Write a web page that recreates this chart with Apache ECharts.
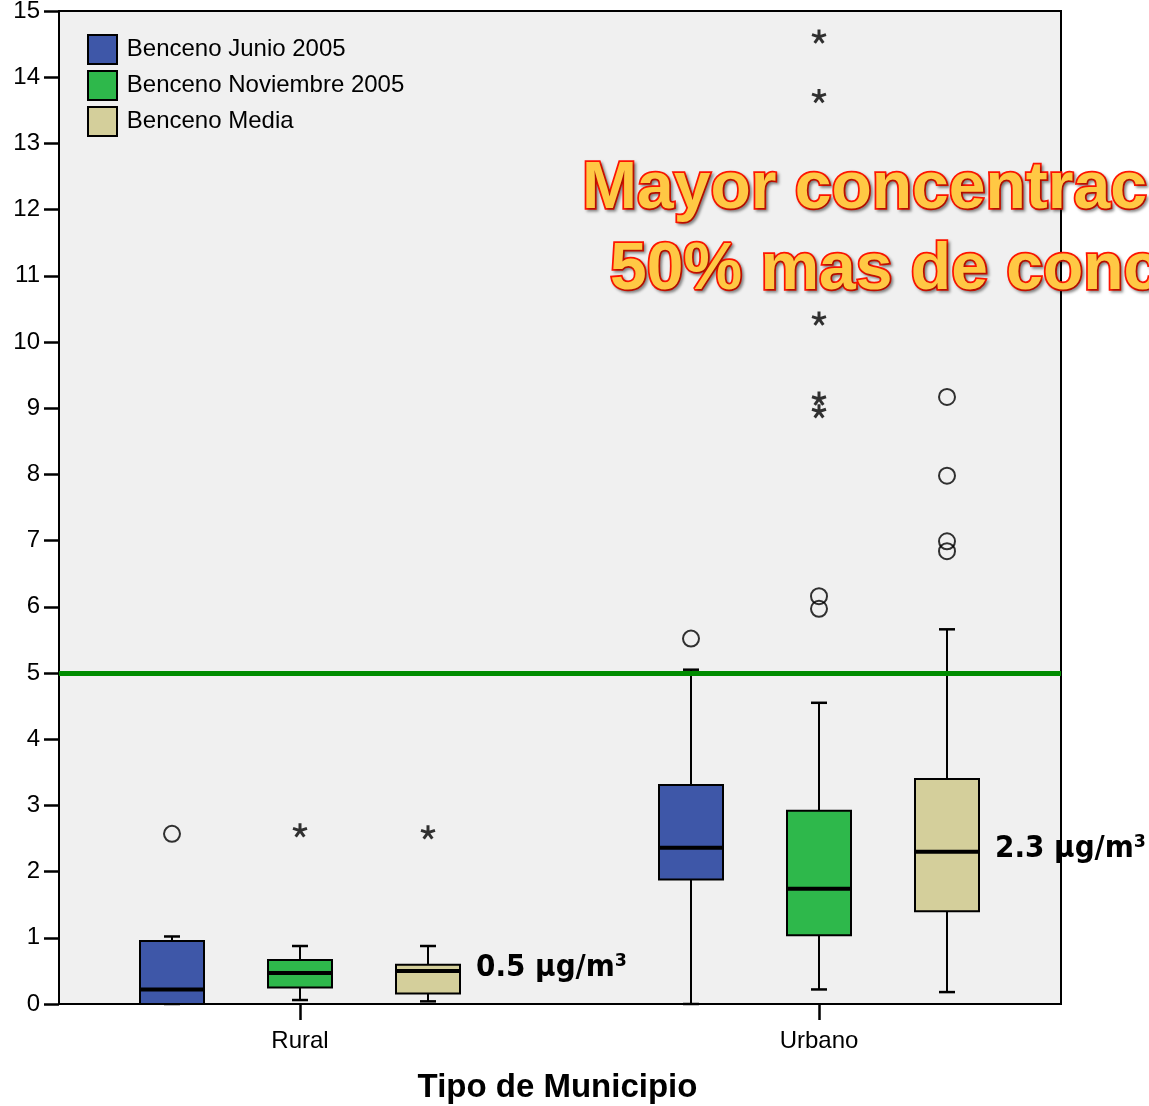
<!DOCTYPE html>
<html>
<head>
<meta charset="utf-8">
<script src="https://cdn.jsdelivr.net/npm/echarts@6/dist/echarts.min.js"></script>
<style>
  html, body { margin: 0; padding: 0; background: #fff; }
  #chart { width: 1149px; height: 1106px; }
</style>
</head>
<body>
<div id="chart"></div>
<script>
// Municipality types on the x axis
const categories = ['Rural', 'Urbano'];
const seriesNames = ['Benceno Junio 2005', 'Benceno Noviembre 2005', 'Benceno Media'];

// Box statistics per category: [min whisker, Q1, median, Q3, max whisker] (µg/m³)
const junioBox = [[0, 0, 0.22, 0.95, 1.02], [0, 1.88, 2.36, 3.31, 5.05]];
const noviembreBox = [[0.06, 0.25, 0.47, 0.665, 0.876], [0.22, 1.04, 1.74, 2.92, 4.55]];
const mediaBox = [[0.04, 0.16, 0.5, 0.594, 0.876], [0.18, 1.40, 2.3, 3.40, 5.66]];

// Outliers (circles) and extreme values (stars): [category index, value]
const junioOutliers = [[0, 2.57], [1, 5.52]];
const noviembreOutliers = [[1, 6.16], [1, 5.97]];
const mediaOutliers = [[1, 9.17], [1, 7.98], [1, 6.99], [1, 6.84]];
const junioExtremes = [];
const noviembreExtremes = [[0, 2.63], [1, 14.62], [1, 13.72], [1, 10.36], [1, 9.15], [1, 8.96]];
const mediaExtremes = [[0, 2.60]];

// Reference limit value (µg/m³)
const limitValue = 5;

// Value axis range
const yMin = 0, yMax = 15, yStep = 1;

const colors = ['#3E57A8', '#2EB84B', '#D4CF9B'];
const groupOffsets = [-128, 0, 128];   // pixel offset of each series inside a category
const boxHalf = 32;
const capHalf = 8;
const baseFont = '"Liberation Sans", Arial, Helvetica, sans-serif';
const starPath = 'path://M0,0L0,-1M0,0L0.951,-0.309M0,0L0.588,0.809M0,0L-0.588,0.809M0,0L-0.951,-0.309';

function makeBoxSeries(idx, rows, withLabel) {
  return {
    type: 'custom',
    name: seriesNames[idx],
    xAxisIndex: 1,
    yAxisIndex: 1,
    clip: false,
    z: 2,
    itemStyle: { color: colors[idx] },
    data: rows.map((r, i) => [i].concat(r)),
    encode: { x: 0, y: [1, 2, 3, 4, 5] },
    renderItem: function (params, api) {
      const c = api.value(0);
      const pt = k => api.coord([c, api.value(k)]);
      const x = pt(1)[0] + groupOffsets[idx];
      const yLo = pt(1)[1], yQ1 = pt(2)[1], yMed = pt(3)[1], yQ3 = pt(4)[1], yHi = pt(5)[1];
      const thin = { stroke: '#000', lineWidth: 2 };
      const cap = { stroke: '#000', lineWidth: 2.5 };
      const children = [
        { type: 'line', shape: { x1: x, y1: yLo, x2: x, y2: yQ1 }, style: thin },
        { type: 'line', shape: { x1: x, y1: yQ3, x2: x, y2: yHi }, style: thin },
        { type: 'line', shape: { x1: x - capHalf, y1: yLo, x2: x + capHalf, y2: yLo }, style: cap },
        { type: 'line', shape: { x1: x - capHalf, y1: yHi, x2: x + capHalf, y2: yHi }, style: cap },
        { type: 'rect', shape: { x: x - boxHalf, y: yQ3, width: boxHalf * 2, height: yQ1 - yQ3 },
          style: { fill: colors[idx], stroke: '#000', lineWidth: 2 } },
        { type: 'line', shape: { x1: x - boxHalf, y1: yMed, x2: x + boxHalf, y2: yMed },
          style: { stroke: '#000', lineWidth: 4 } }
      ];
      if (withLabel) {
        children.push({
          type: 'text',
          x: x + boxHalf + 16,
          y: yMed - 3,
          z2: 20,
          style: {
            text: api.value(3).toFixed(1) + ' \u00B5g/m\u00B3',
            font: 'bold 31px "DejaVu Sans Condensed", "DejaVu Sans", sans-serif',
            fill: '#000',
            align: 'left',
            verticalAlign: 'middle'
          }
        });
      }
      return { type: 'group', children: children };
    }
  };
}

function makePointSeries(idx, points, kind) {
  const circle = kind === 'circle';
  return {
    type: 'scatter',
    xAxisIndex: 1,
    yAxisIndex: 1,
    data: points,
    silent: true,
    z: 3,
    symbol: circle ? 'circle' : starPath,
    symbolSize: circle ? 16 : 14,
    symbolKeepAspect: true,
    symbolOffset: [groupOffsets[idx], 0],
    itemStyle: circle
      ? { color: 'rgba(0,0,0,0)', borderColor: '#000', borderWidth: 2 }
      : { color: '#000', borderColor: '#000', borderWidth: 3 }
  };
}

const annotationStyle = {
  font: 'bold 66px ' + baseFont,
  fill: '#FFC844',
  stroke: '#FF1400',
  lineWidth: 3.5,
  align: 'left',
  verticalAlign: 'middle',
  textShadowColor: 'rgba(0,0,0,0.35)',
  textShadowBlur: 3,
  textShadowOffsetX: 2,
  textShadowOffsetY: 2
};

const chart = echarts.init(document.getElementById('chart'), null, { renderer: 'canvas' });

chart.setOption({
  backgroundColor: '#fff',
  animation: false,
  textStyle: { fontFamily: baseFont },
  grid: [
    { left: 59, right: 88, top: 11, bottom: 102, show: true, backgroundColor: '#F0F0F0',
      borderColor: '#000', borderWidth: 2, containLabel: false, outerBoundsMode: 'none' },
    { left: 40.5, right: 70.5, top: 11, bottom: 102, containLabel: false, outerBoundsMode: 'none' }
  ],
  legend: {
    data: seriesNames,
    orient: 'vertical',
    left: 87,
    top: 34,
    padding: 0,
    icon: 'rect',
    itemWidth: 29,
    itemHeight: 29,
    itemGap: 5,
    itemStyle: { borderColor: '#000', borderWidth: 2 },
    selectedMode: false,
    formatter: function (name) { return '\u2009' + name; },
    textStyle: { fontSize: 24, color: '#000', fontFamily: baseFont }
  },
  xAxis: [
    { type: 'value', gridIndex: 0, min: 0, max: 1, show: false },
    {
      type: 'category', gridIndex: 1, data: categories, boundaryGap: true,
      axisLine: { show: false },
      axisTick: { show: true, alignWithLabel: true, length: 16, lineStyle: { color: '#000', width: 2.5 } },
      axisLabel: { fontSize: 24, color: '#000', margin: 25, fontFamily: baseFont },
      splitLine: { show: false },
      name: 'Tipo de Municipio',
      nameLocation: 'middle',
      nameGap: 67,
      nameTextStyle: { fontSize: 33, fontWeight: 'bold', color: '#000', fontFamily: baseFont, padding: [0, 4, 0, 0] }
    }
  ],
  yAxis: [
    {
      type: 'value', gridIndex: 0, min: yMin, max: yMax, interval: yStep,
      axisLine: { show: true, lineStyle: { color: '#000', width: 2 } },
      axisTick: { show: true, length: 15, lineStyle: { color: '#000', width: 2.5 } },
      axisLabel: { fontSize: 24, color: '#000', margin: 19, fontFamily: baseFont },
      splitLine: { show: false }
    },
    { type: 'value', gridIndex: 1, min: yMin, max: yMax, interval: yStep, show: false, splitLine: { show: false } }
  ],
  series: [
    {
      type: 'line', xAxisIndex: 0, yAxisIndex: 0, data: [], silent: true,
      markLine: {
        silent: true, symbol: 'none', animation: false,
        label: { show: false },
        lineStyle: { color: '#008C00', width: 5, type: 'solid' },
        data: [{ yAxis: limitValue }]
      }
    },
    makeBoxSeries(0, junioBox, false),
    makeBoxSeries(1, noviembreBox, false),
    makeBoxSeries(2, mediaBox, true),
    makePointSeries(0, junioOutliers, 'circle'),
    makePointSeries(1, noviembreOutliers, 'circle'),
    makePointSeries(2, mediaOutliers, 'circle'),
    makePointSeries(0, junioExtremes, 'star'),
    makePointSeries(1, noviembreExtremes, 'star'),
    makePointSeries(2, mediaExtremes, 'star')
  ],
  graphic: [
    { type: 'text', x: 582, y: 190, z: 100, style: Object.assign({ text: 'Mayor concentración' }, annotationStyle) },
    { type: 'text', x: 610, y: 271, z: 100, style: Object.assign({ text: '50% mas de concentración' }, annotationStyle) }
  ]
});
</script>
</body>
</html>
